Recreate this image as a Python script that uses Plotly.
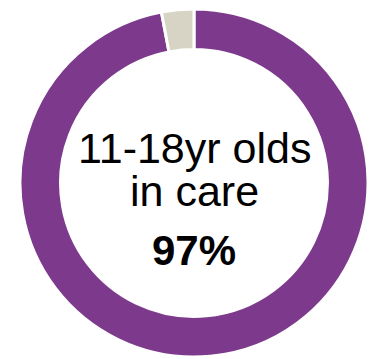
import plotly.graph_objects as go

labels = ["In care", "Other"]
values = [97, 3]
colors = ["#7D3A8C", "#D7D4C6"]
title_lines = ["11-18yr olds", "in care"]
pct_label = "97%"

W, H = 375, 359
cx, cy, R = 186, 175, 174  # pixel centre (from top) and outer radius

def py(ypix):
    return (H - ypix) / H

def px(xpix):
    return xpix / W

fig = go.Figure(go.Pie(
    labels=labels, values=values, hole=0.767, sort=False,
    direction="clockwise", rotation=0,
    domain=dict(x=[px(cx - R), px(cx + R)], y=[py(cy + R), min(1, py(cy - R))]),
    marker=dict(colors=colors, line=dict(color="white", width=3)),
    textinfo="none", hoverinfo="label+percent", showlegend=False,
))

font = dict(family="Liberation Sans, Arial, sans-serif", color="black")
fig.add_annotation(text=title_lines[0], x=px(cx), y=py(140), xref="paper", yref="paper",
                   showarrow=False, xanchor="center", yanchor="middle", font=dict(size=43, **font))
fig.add_annotation(text=title_lines[1], x=px(cx), y=py(183), xref="paper", yref="paper",
                   showarrow=False, xanchor="center", yanchor="middle", font=dict(size=43, **font))
fig.add_annotation(text="<b>" + pct_label + "</b>", x=px(cx), y=py(242), xref="paper", yref="paper",
                   showarrow=False, xanchor="center", yanchor="middle", font=dict(size=42, **font))

fig.update_layout(width=W, height=H, margin=dict(l=0, r=0, t=0, b=0),
                  paper_bgcolor="white", plot_bgcolor="white")
fig.write_html("out.html")
